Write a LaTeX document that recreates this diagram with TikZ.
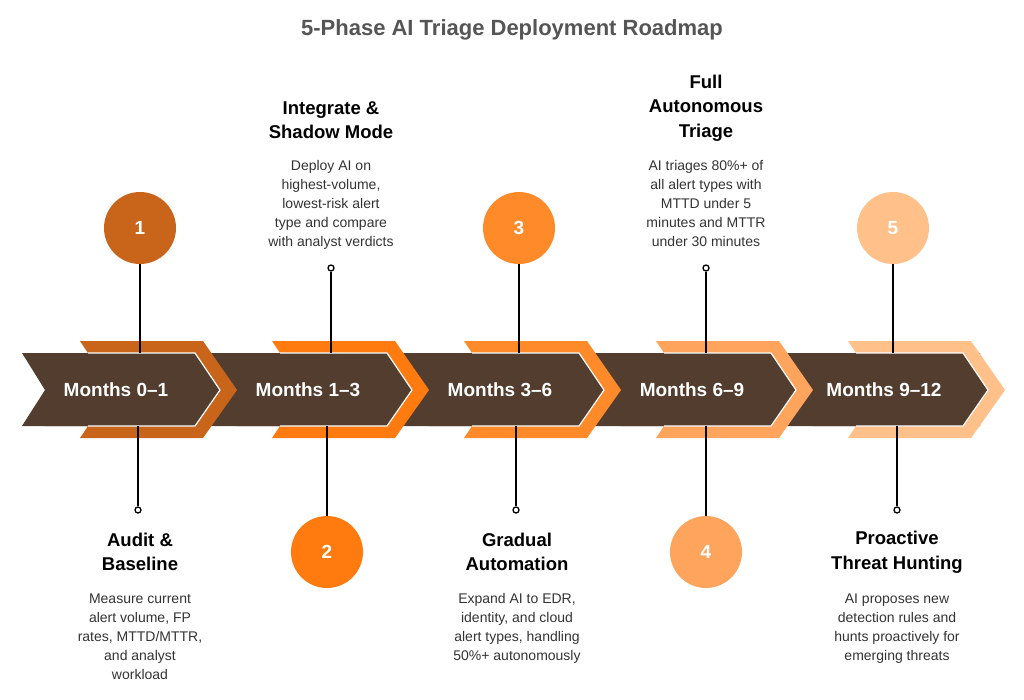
\documentclass[tikz,border=0pt]{standalone}
\usepackage{fontspec}
\setmainfont{Liberation Sans}
\definecolor{brn}{HTML}{523D2E}
\definecolor{oa}{HTML}{C8651B}
\definecolor{ob}{HTML}{FF7A0F}
\definecolor{oc}{HTML}{FF8A2A}
\definecolor{od}{HTML}{FFA45C}
\definecolor{oe}{HTML}{FFC08A}
\definecolor{ttl}{HTML}{555555}
\definecolor{txt}{HTML}{333333}
\begin{document}
\begin{tikzpicture}[x=1pt,y=-1pt,
  circ/.style={circle,minimum size=72pt,inner sep=0pt,text=white,font=\bfseries\fontsize{19}{19}\selectfont},
  title/.style={align=center,font=\bfseries\fontsize{18.5}{24.5}\selectfont,text=black},
  desc/.style={align=center,font=\fontsize{14}{19}\selectfont,text=txt},
  month/.style={text=white,font=\bfseries\fontsize{19}{19}\selectfont},
  dot/.style={circle,draw=black,fill=white,line width=1.3pt,minimum size=6pt,inner sep=0pt},
  conn/.style={line width=1.5pt,black}]
\useasboundingbox (0,0) rectangle (1024,699);
\node[font=\bfseries\fontsize{22}{22}\selectfont,text=ttl] (t) at (512,30) {5-Phase AI Triage Deployment Roadmap};
% band background
\fill[brn] (22,353) -- (980,353) -- (980,426) -- (22,426) -- (45,390) -- cycle;
\foreach \i/\c in {0/oa,1/ob,2/oc,3/od,4/oe}{
  \pgfmathsetmacro{\d}{192*\i}
  \fill[\c] (80+\d,341) -- (203+\d,341) -- (237+\d,390) -- (203+\d,438) -- (80+\d,438) -- (88+\d,426) -- (88+\d,353) -- cycle;
  \fill[brn] (45+\d,353) -- (195+\d,353) -- (220+\d,390) -- (195+\d,426) -- (45+\d,426) -- cycle;
  \draw[white,line width=1.2pt] (88+\d,353) -- (195+\d,353) -- (220+\d,390) -- (195+\d,426) -- (88+\d,426);
}
\node[month] (m1) at (116,390) {Months 0–1};
\node[month] (m2) at (308,390) {Months 1–3};
\node[month] (m3) at (500,390) {Months 3–6};
\node[month] (m4) at (692,390) {Months 6–9};
\node[month] (m5) at (884,390) {Months 9–12};
% circles
\node[circ,fill=oa] (c1) at (140,228) {1};
\node[circ,fill=ob] (c2) at (327,552) {2};
\node[circ,fill=oc] (c3) at (519,228) {3};
\node[circ,fill=od] (c4) at (706,552) {4};
\node[circ,fill=oe] (c5) at (893,228) {5};
\coordinate (b1) at (140,353); \coordinate (b3) at (519,353); \coordinate (b5) at (893,353);
\coordinate (b2) at (327,426); \coordinate (b4) at (706,426);
\draw[conn] (c1) -- (b1); \draw[conn] (c3) -- (b3); \draw[conn] (c5) -- (b5);
\draw[conn] (c2) -- (b2); \draw[conn] (c4) -- (b4);
% dots
\node[dot] (d2) at (331,268) {}; \coordinate (e2) at (331,353);
\node[dot] (d4) at (706,268) {}; \coordinate (e4) at (706,353);
\node[dot] (d1) at (138,510) {}; \coordinate (e1) at (138,426);
\node[dot] (d3) at (516,510) {}; \coordinate (e3) at (516,426);
\node[dot] (d5) at (897,510) {}; \coordinate (e5) at (897,426);
\foreach \k in {1,...,5}{\draw[conn] (d\k) -- (e\k);}
% texts
\node[title] (t1) at (140,552) {Audit \&\\Baseline};
\node[desc,anchor=north] (x1) at (140,590) {Measure current\\alert volume, FP\\rates, MTTD/MTTR,\\and analyst\\workload};
\node[title] (t2) at (331,120) {Integrate \&\\Shadow Mode};
\node[desc,anchor=north] (x2) at (331,157) {Deploy AI on\\highest-volume,\\lowest-risk alert\\type and compare\\with analyst verdicts};
\node[title] (t3) at (517,552) {Gradual\\Automation};
\node[desc,anchor=north] (x3) at (517,590) {Expand AI to EDR,\\identity, and cloud\\alert types, handling\\50\%+ autonomously};
\node[title] (t4) at (706,108) {Full\\Autonomous\\Triage};
\node[desc,anchor=north] (x4) at (706,157) {AI triages 80\%+ of\\all alert types with\\MTTD under 5\\minutes and MTTR\\under 30 minutes};
\node[title] (t5) at (897,552) {Proactive\\Threat Hunting};
\node[desc,anchor=north] (x5) at (897,590) {AI proposes new\\detection rules and\\hunts proactively for\\emerging threats};
\end{tikzpicture}
\end{document}
